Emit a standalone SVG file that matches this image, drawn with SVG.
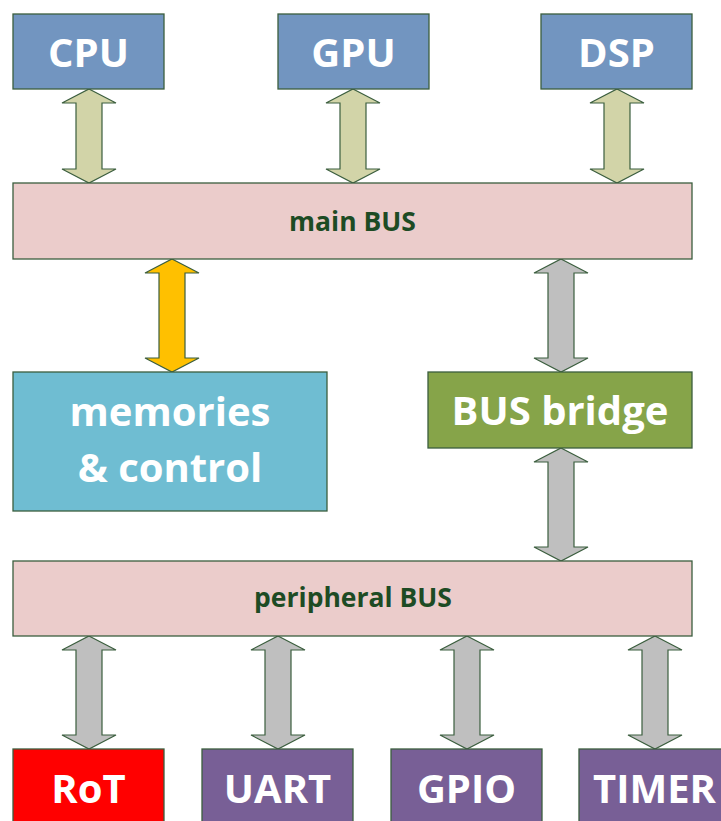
<svg xmlns="http://www.w3.org/2000/svg" width="721" height="821" viewBox="0 0 721 821">
<style>
.box{stroke:#3b5e3e;stroke-width:1.3}
.blue{fill:#7295c0}
.bus{fill:#ebcccb}
.aqua{fill:#6fbdd2}
.green{fill:#86a449}
.red{fill:#ff0000}
.purple{fill:#785f96}
.arr{stroke:#3b5e3e;stroke-width:1.2;stroke-linejoin:miter}
.olive{fill:#d2d4a8}
.gray{fill:#bfbfbf}
.yellow{fill:#ffc000}
.big{font-family:"Open Sans","Liberation Sans",sans-serif;font-weight:bold;font-size:40px;fill:#ffffff;text-anchor:middle}
.mem{font-size:40px}
.small{font-family:"Open Sans","Liberation Sans",sans-serif;font-weight:bold;font-size:26.5px;fill:#1d4b24;text-anchor:middle}
</style>
<rect width="721" height="821" fill="#ffffff"/>
<g id="connectors">
<path class="arr olive" d="M89,89 L116,103 L102,103 L102,169 L116,169 L89,183 L62,169 L76,169 L76,103 L62,103 Z"/>
<path class="arr olive" d="M353,89 L380,103 L366,103 L366,169 L380,169 L353,183 L326,169 L340,169 L340,103 L326,103 Z"/>
<path class="arr olive" d="M617,89 L644,103 L630,103 L630,169 L644,169 L617,183 L590,169 L604,169 L604,103 L590,103 Z"/>
<path class="arr yellow" d="M172,259 L199,273 L185,273 L185,358 L199,358 L172,372 L145,358 L159,358 L159,273 L145,273 Z"/>
<path class="arr gray" d="M561,259 L588,273 L574,273 L574,358 L588,358 L561,372 L534,358 L548,358 L548,273 L534,273 Z"/>
<path class="arr gray" d="M561,448 L588,462 L574,462 L574,547 L588,547 L561,561 L534,547 L548,547 L548,462 L534,462 Z"/>
<path class="arr gray" d="M89,636 L116,650 L102,650 L102,735 L116,735 L89,749 L62,735 L76,735 L76,650 L62,650 Z"/>
<path class="arr gray" d="M278,636 L305,650 L291,650 L291,735 L305,735 L278,749 L251,735 L265,735 L265,650 L251,650 Z"/>
<path class="arr gray" d="M467,636 L494,650 L480,650 L480,735 L494,735 L467,749 L440,735 L454,735 L454,650 L440,650 Z"/>
<path class="arr gray" d="M655,636 L682,650 L668,650 L668,735 L682,735 L655,749 L628,735 L642,735 L642,650 L628,650 Z"/>
</g>
<g id="cpu"><rect class="box blue" x="13" y="14" width="151" height="75"/><text class="big" x="88.5" y="67">CPU</text></g>
<g id="gpu"><rect class="box blue" x="278" y="14" width="151" height="75"/><text class="big" x="353.5" y="67">GPU</text></g>
<g id="dsp"><rect class="box blue" x="541" y="14" width="151" height="75"/><text class="big" x="616.5" y="67">DSP</text></g>
<g id="main-bus"><rect class="box bus" x="13" y="183" width="679" height="76"/><text class="small" x="352.5" y="231">main BUS</text></g>
<g id="memories"><rect class="box aqua" x="13" y="372" width="314" height="139"/><text class="big mem" x="170" y="426">memories</text><text class="big mem" x="170" y="482">&amp; control</text></g>
<g id="bus-bridge"><rect class="box green" x="428" y="372" width="264" height="76"/><text class="big" x="560" y="425">BUS bridge</text></g>
<g id="peripheral-bus"><rect class="box bus" x="13" y="561" width="679" height="75"/><text class="small" x="353" y="607">peripheral BUS</text></g>
<g id="rot"><rect class="box red" x="13" y="749" width="151" height="76"/><text class="big" x="88.5" y="803">RoT</text></g>
<g id="uart"><rect class="box purple" x="202" y="749" width="151" height="76"/><text class="big" x="277.5" y="803">UART</text></g>
<g id="gpio"><rect class="box purple" x="391" y="749" width="151" height="76"/><text class="big" x="466.5" y="803">GPIO</text></g>
<g id="timer"><rect class="box purple" x="579" y="749" width="151" height="76"/><text class="big" x="654.5" y="803">TIMER</text></g>
</svg>
